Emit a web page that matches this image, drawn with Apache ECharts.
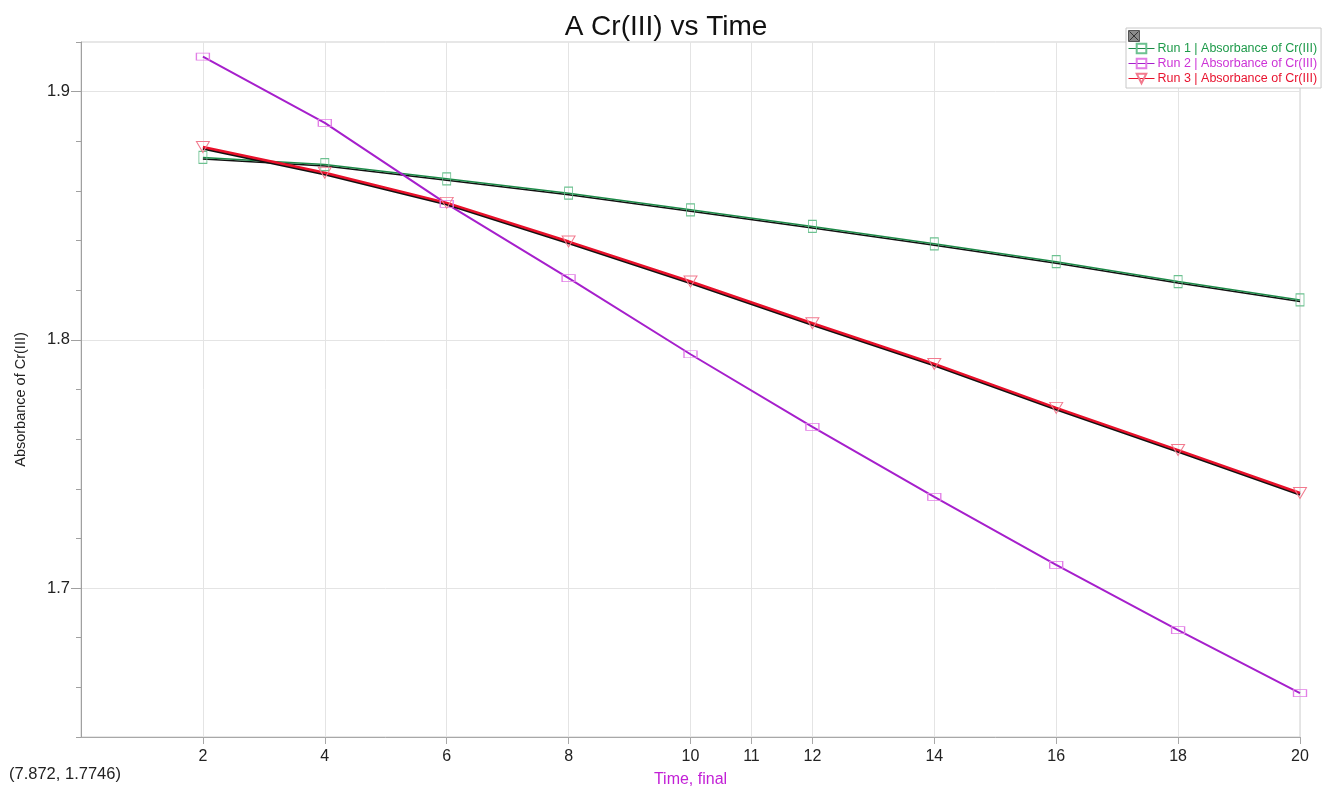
<!DOCTYPE html>
<html>
<head>
<meta charset="utf-8">
<script src="https://cdn.jsdelivr.net/npm/echarts@6/dist/echarts.min.js"></script>
<style>
	html, body { margin: 0; padding: 0; background: #fff; }
	#chart { width: 1335px; height: 794px; }
</style>
</head>
<body>
<div id="chart"></div>
<script>
(function(){

	// data
	var timeValues = [2, 4, 6, 8, 10, 12, 14, 16, 18, 20];
	var run1Values = [1.8735, 1.8706, 1.8649, 1.8591, 1.8524, 1.8457, 1.8387, 1.8315, 1.8235, 1.8161];
	var run2Values = [1.9141, 1.8874, 1.8548, 1.8249, 1.7942, 1.7649, 1.7367, 1.7093, 1.6831, 1.6577];
	var run3Values = [1.8777, 1.8673, 1.8552, 1.8396, 1.8235, 1.8067, 1.7903, 1.7726, 1.7556, 1.7383];
	var xTickValues = [2, 4, 6, 8, 10, 11, 12, 14, 16, 18, 20];
	var yTickValues = [1.7, 1.8, 1.9];
	var runNames = ["Run 1 | Absorbance of Cr(III)", "Run 2 | Absorbance of Cr(III)", "Run 3 | Absorbance of Cr(III)"];

	var fontFamily = "'Liberation Sans', Arial, sans-serif";

	function pairs(xs, ys){
		return xs.map(function(x, i){ return [x, ys[i]]; });
	}

	function runSeries(name, values, opts){
		var lineStyle = { color: opts.line, width: opts.width };
		if(opts.shadow){
			// dark trace just under the coloured one
			lineStyle.shadowColor = "#111";
			lineStyle.shadowBlur = 0;
			lineStyle.shadowOffsetY = opts.shadow;
		}
		return {
			name: name,
			type: "line",
			data: pairs(timeValues, values),
			symbol: opts.symbol,
			symbolSize: opts.size,
			symbolRotate: opts.rotate || 0,
			showAllSymbol: true,
			z: 3,
			lineStyle: lineStyle,
			itemStyle: { color: "rgba(255,255,255,0)", borderColor: opts.mark, borderWidth: 1 }
		};
	}

	var chart = echarts.init(document.getElementById("chart"));

	chart.setOption({
		animation: false,
		backgroundColor: "#fff",
		title: {
			text: "A Cr(III) vs Time",
			left: 661,
			top: 8,
			textAlign: "center",
			textStyle: { fontFamily: fontFamily, fontSize: 28, fontWeight: "normal", color: "#111" }
		},
		legend: {
			orient: "vertical",
			left: 1126,
			top: 28,
			padding: [14, 4, 3, 2],
			itemGap: 2,
			itemWidth: 26,
			itemHeight: 12,
			backgroundColor: "#fff",
			borderColor: "#c8c8c8",
			borderWidth: 1,
			borderRadius: 0,
			lineStyle: { width: 1, shadowBlur: 0, shadowOffsetY: 0, shadowColor: "transparent" },
			textStyle: { fontFamily: fontFamily, fontSize: 12.5, padding: [0, 0, 0, -2] },
			data: [
				{ name: runNames[0], textStyle: { color: "#1e9a4a" } },
				{ name: runNames[1], textStyle: { color: "#cc33d6" } },
				{ name: runNames[2], textStyle: { color: "#e8132f" } }
			]
		},
		grid: {
			left: 81,
			right: 35,
			top: 42,
			bottom: 57,
			show: true,
			borderColor: "#cfcfcf",
			borderWidth: 1
		},
		xAxis: {
			type: "value",
			min: 0,
			max: 20,
			name: "Time, final",
			nameLocation: "middle",
			nameGap: 35,
			nameTextStyle: { fontFamily: fontFamily, fontSize: 16, color: "#c21fd6" },
			axisLine: { lineStyle: { color: "#a8a8a8" } },
			axisTick: { length: 7, customValues: xTickValues, lineStyle: { color: "#a8a8a8" } },
			axisLabel: { customValues: xTickValues, margin: 12, fontFamily: fontFamily, fontSize: 16, color: "#222" },
			splitLine: { show: true, lineStyle: { color: "#e4e4e4" } }
		},
		yAxis: [{
			type: "value",
			min: 1.64,
			max: 1.92,
			name: "Absorbance of Cr(III)",
			nameLocation: "middle",
			nameGap: 53,
			nameTextStyle: { fontFamily: fontFamily, fontSize: 14.5, color: "#222", padding: [0, 20, 0, 0] },
			axisLine: { show: true, lineStyle: { color: "#a0a0a0" } },
			axisTick: { length: 10, customValues: yTickValues, lineStyle: { color: "#a0a0a0" } },
			axisLabel: { customValues: yTickValues, margin: 11, fontFamily: fontFamily, fontSize: 16.5, color: "#222",
				formatter: function(v){ return v.toFixed(1); } },
			splitLine: { show: true, lineStyle: { color: "#e4e4e4" } }
		}, {
			// minor ticks every 0.02
			type: "value",
			position: "left",
			min: 1.64,
			max: 1.92,
			interval: 0.02,
			axisLine: { show: false },
			axisTick: { show: true, length: 5, lineStyle: { color: "#a0a0a0" } },
			axisLabel: { show: false },
			splitLine: { show: false }
		}],
		graphic: [{
			type: "group",
			left: 1127,
			top: 29,
			z: 100,
			children: [
				{ type: "rect", z: 100, shape: { x: 0, y: 0, width: 11, height: 11 }, style: { fill: "#8a8a8a", stroke: "#555" } },
				{ type: "line", z: 101, shape: { x1: 1, y1: 1, x2: 10, y2: 10 }, style: { stroke: "#333", lineWidth: 1 } },
				{ type: "line", z: 101, shape: { x1: 10, y1: 1, x2: 1, y2: 10 }, style: { stroke: "#333", lineWidth: 1 } }
			]
		}, {
			type: "text",
			left: 9,
			top: 766,
			style: { text: "(7.872, 1.7746)", font: "16.5px " + fontFamily, fill: "#222" }
		}],
		series: [
			runSeries(runNames[0], run1Values, { line: "#1c8a48", mark: "#6cc190", symbol: "rect", size: [8, 12], width: 1.5, shadow: 1.5 }),
			runSeries(runNames[1], run2Values, { line: "#a61fcc", mark: "#e27ee6", symbol: "rect", size: [13, 7], width: 2 }),
			runSeries(runNames[2], run3Values, { line: "#e8102a", mark: "#f27a8e", symbol: "triangle", size: [13, 11], rotate: 180, width: 2.5, shadow: 1.5 })
		]
	});

})();
</script>
</body>
</html>
